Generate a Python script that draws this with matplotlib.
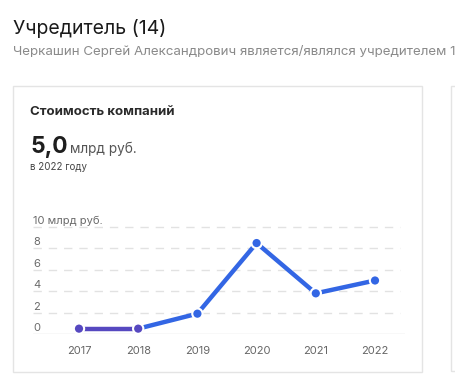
import matplotlib.pyplot as plt
from matplotlib.patches import Rectangle

plt.rcParams['font.family'] = ['Inter', 'DejaVu Sans']

# Data
years = [2017, 2018, 2019, 2020, 2021, 2022]
values = [0.5, 0.5, 1.9, 8.5, 3.8, 5.0]
y_ticks = [0, 2, 4, 6, 8, 10]
y_labels = ['0', '2', '4', '6', '8', '10 млрд руб.']

W, H = 455, 379
fig = plt.figure(figsize=(W / 100, H / 100), dpi=100)

def fx(px):
    return px / W

def fy(py):
    return 1 - py / H

# header text
fig.text(fx(13), fy(29), 'Учредитель (14)', fontsize=14, color='#1a1a1a', va='center')
fig.text(fx(13), fy(52), 'Черкашин Сергей Александрович является/являлся учредителем 14',
         fontsize=9.6, color='#8a8a8a', va='center')

# cards
fig.patches.append(Rectangle((fx(13), fy(372)), fx(422 - 13), (372 - 86) / H,
                             transform=fig.transFigure, fill=False, ec='#e4e4e4', lw=1))
fig.patches.append(Rectangle((fx(451), fy(371)), fx(40), (371 - 86) / H,
                             transform=fig.transFigure, fill=False, ec='#e4e4e4', lw=1))

fig.text(fx(30), fy(112), 'Стоимость компаний', fontsize=9.5, fontweight='bold',
         color='#2a2a2a', va='center')
fig.text(fx(30), fy(153), '5,0', fontsize=16.5, fontweight='bold', color='#1e1e1e', va='baseline')
fig.text(fx(70), fy(153), 'млрд руб.', fontsize=9.8, color='#555555', va='baseline')
fig.text(fx(30), fy(167), 'в 2022 году', fontsize=7, color='#444444', va='center')

# chart axes
ax_left, ax_right, ax_bottom, ax_top = 33, 405, 334, 222
ax = fig.add_axes([fx(ax_left), fy(ax_bottom), fx(ax_right - ax_left), (ax_bottom - ax_top) / H])
ppy = (375 - 79) / 5
ax.set_xlim(2017 - (79 - ax_left) / ppy, 2022 + (ax_right - 375) / ppy)
ax.set_ylim(0, 10 * (ax_bottom - ax_top) / (334 - 227))
for s in ax.spines.values():
    s.set_visible(False)
ax.set_yticks([])
ax.set_xticks(years)
ax.set_xticklabels([str(y) for y in years], fontsize=8, color='#666666')
ax.tick_params(axis='x', length=0, pad=9)
ax.patch.set_alpha(0)

for t in y_ticks[1:]:
    ax.axhline(t, xmin=0, xmax=(400 - ax_left) / (ax_right - ax_left), color='#e2e2e2',
               lw=1, ls=(0, (6, 5)), zorder=1)
ax.axhline(0, color='#dddddd', lw=1, zorder=1)
for t, lab in zip(y_ticks, y_labels):
    ax.text(0.0, t + 0.1, lab, transform=ax.get_yaxis_transform(), fontsize=8,
            color='#6a6a6a', va='bottom', ha='left')

purple = '#5648c0'
blue = '#3366e4'
seg_colors = [purple, blue, blue, blue, blue]
for i in range(len(years) - 1):
    ax.plot(years[i:i + 2], values[i:i + 2], color=seg_colors[i], lw=3.2,
            solid_capstyle='butt', zorder=3)
pt_colors = [purple, purple, blue, blue, blue, blue]
ax.scatter(years, values, s=55, c=pt_colors, edgecolors='white', linewidths=1.5, zorder=4)

fig.savefig('out.png', dpi=100)
